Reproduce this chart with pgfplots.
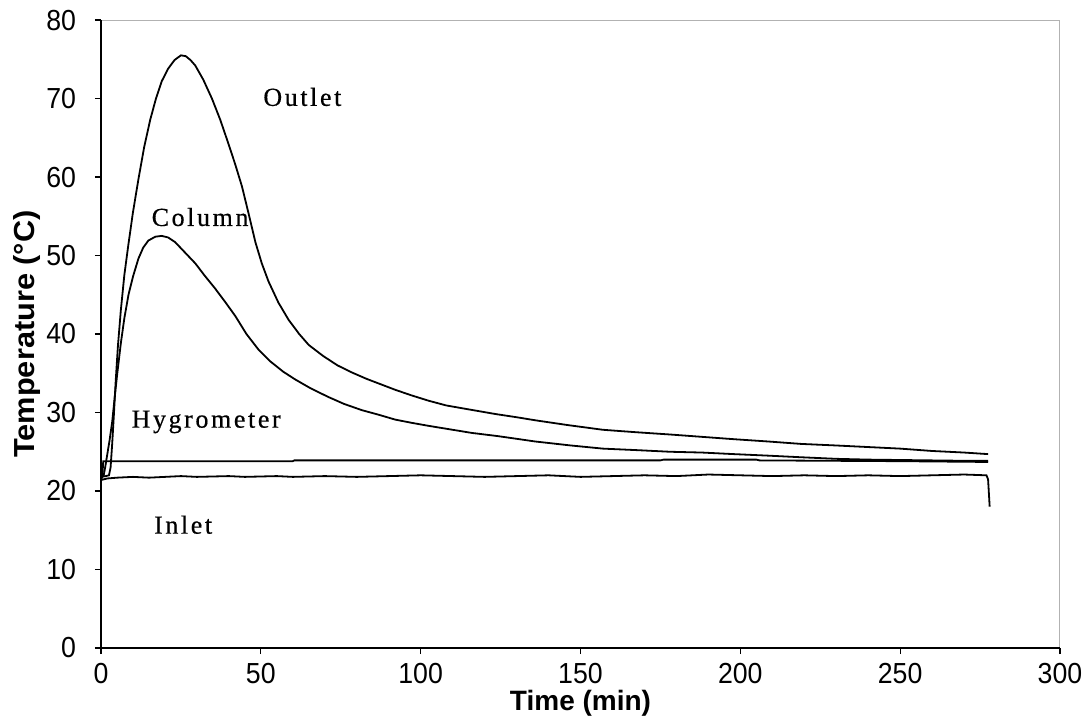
\documentclass[border=0pt]{standalone}
\usepackage{fontspec}
\setmainfont{Liberation Sans}
\newfontfamily\lblfont[LetterSpace=10,FakeBold=0.5]{Liberation Serif}
\newfontfamily\tickfont[FakeStretch=0.92]{Liberation Sans}
\newfontfamily\ylabfont[FakeStretch=1.06]{Liberation Sans}
\usepackage{pgfplots}
\pgfplotsset{compat=1.18}
\usepackage{pgfplotstable}

\pgfplotstableread{
t T
0 21.8
1.5 21.9
2.5 22.0
3.0 23.0
3.5 26.0
4.0 29.5
4.6 34.0
5.3 38.5
6.2 43.0
7.3 47.5
8.6 51.5
10.0 55.5
11.7 59.7
13.5 63.8
15.4 67.3
17.2 70.0
19.0 72.2
21.0 73.8
23.0 74.9
25.0 75.5
26.5 75.4
28.0 74.9
29.5 74.2
32.0 72.4
34.7 70.0
37.3 67.3
39.9 64.2
42.0 61.6
44.1 58.8
46.2 55.3
48.3 51.7
50.3 49.0
52.4 46.7
55.5 44.0
58.7 41.8
62.0 40.0
65.0 38.6
69.5 37.2
74.0 36.0
78.5 35.1
83.0 34.3
87.5 33.6
92.0 32.9
97.0 32.2
102.5 31.5
108.0 30.9
115.0 30.4
123.5 29.8
130 29.4
136 29.0
146 28.4
157 27.8
167 27.5
178 27.2
188 26.9
198 26.6
209 26.3
219 26.0
230 25.8
240 25.6
250 25.4
260 25.1
270 24.9
277.5 24.7
}\outlet

\pgfplotstableread{
t T
0 21.8
0.8 21.9
1.3 23.0
1.9 24.5
2.7 26.5
3.5 28.8
4.3 32.0
5.1 35.0
6.2 38.8
7.3 42.0
8.6 45.0
10.0 47.3
11.7 49.6
13.2 51.0
14.8 51.9
17.0 52.4
19.0 52.5
21.0 52.3
23.2 51.7
26.0 50.5
29.5 49.0
32.5 47.4
35.7 45.8
39.0 44.0
42.0 42.3
45.5 40.0
49.3 38.0
53.0 36.5
57.0 35.2
60.8 34.2
65.5 33.1
71.0 32.0
76.0 31.1
81.6 30.3
87.0 29.7
92.0 29.1
97.0 28.7
102.5 28.3
110 27.8
116 27.4
124 27.0
136 26.3
147 25.8
157 25.4
168 25.2
178 25.0
188 24.9
198 24.7
209 24.5
219 24.3
230 24.1
240 24.0
250 23.95
260 23.9
270 23.85
277.5 23.85
}\column

\pgfplotstableread{
t T
0 21.6
0.4 21.7
0.7 23.8
60 23.8
60.5 23.9
175 23.9
176 24.0
205 24.0
206 23.9
250 23.8
277.5 23.7
}\hygro

\pgfplotstableread{
t T
0 21.4
2 21.6
5 21.7
10 21.8
15 21.7
20 21.8
25 21.9
30 21.8
40 21.9
45 21.8
55 21.9
60 21.8
70 21.9
80 21.8
90 21.9
100 22.0
110 21.9
120 21.8
130 21.9
140 22.0
150 21.8
160 21.9
170 22.0
180 21.9
190 22.1
200 22.0
210 21.9
220 22.0
230 21.9
240 22.0
250 21.9
260 22.0
270 22.1
277 22.0
277.5 21.5
278 18.0
}\inlet

\begin{document}
\begin{tikzpicture}
\useasboundingbox (-50.5pt,-36pt) rectangle (494pt,324pt);
\begin{axis}[
  at={(0,0)}, anchor=south west,
  scale only axis,
  width=479.5pt, height=314pt,
  xmin=0, xmax=300, ymin=0, ymax=80,
  xtick={0,50,...,300}, ytick={0,10,...,80},
  tick align=outside, tick pos=left,
  major tick length=3pt,
  axis line style={gray!60, line width=0.5pt},
  every tick/.style={black, line width=0.6pt},
  tick label style={font=\tickfont\fontsize{14.5}{17}\selectfont},
  yticklabel style={xshift=-6pt},
  xticklabel style={yshift=-1pt},
  /pgf/number format/assume math mode=true,
  xlabel={\textbf{Time (min)}},
  ylabel={\textbf{Temperature (°C)}},
  xlabel style={font=\fontsize{14}{17}\selectfont, at={(axis description cs:0.5,-0.088)}, anchor=center},
  ylabel style={font=\ylabfont\fontsize{14.5}{17}\selectfont, at={(axis description cs:-0.077,0.5)}, anchor=center},
  clip=false,
  after end axis/.code={
    \draw[black, line width=1pt] (rel axis cs:0,1) -- (rel axis cs:0,0) -- (rel axis cs:1,0);
  },
]
\addplot[black, line width=0.9pt] table[x=t,y=T] {\inlet};
\addplot[black, line width=0.9pt] table[x=t,y=T] {\hygro};
\addplot[black, line width=0.9pt] table[x=t,y=T] {\column};
\addplot[black, line width=0.9pt] table[x=t,y=T] {\outlet};

\node[font=\lblfont\fontsize{13}{15}\selectfont] at (axis cs:63,70.2) {Outlet};
\node[font=\lblfont\fontsize{13}{15}\selectfont] at (axis cs:31,54.9) {Column};
\node[font=\lblfont\fontsize{13}{15}\selectfont] at (axis cs:32.9,28.8) {Hygrometer};
\node[font=\lblfont\fontsize{13}{15}\selectfont] at (axis cs:25.7,15.7) {Inlet};
\end{axis}
\end{tikzpicture}
\end{document}
